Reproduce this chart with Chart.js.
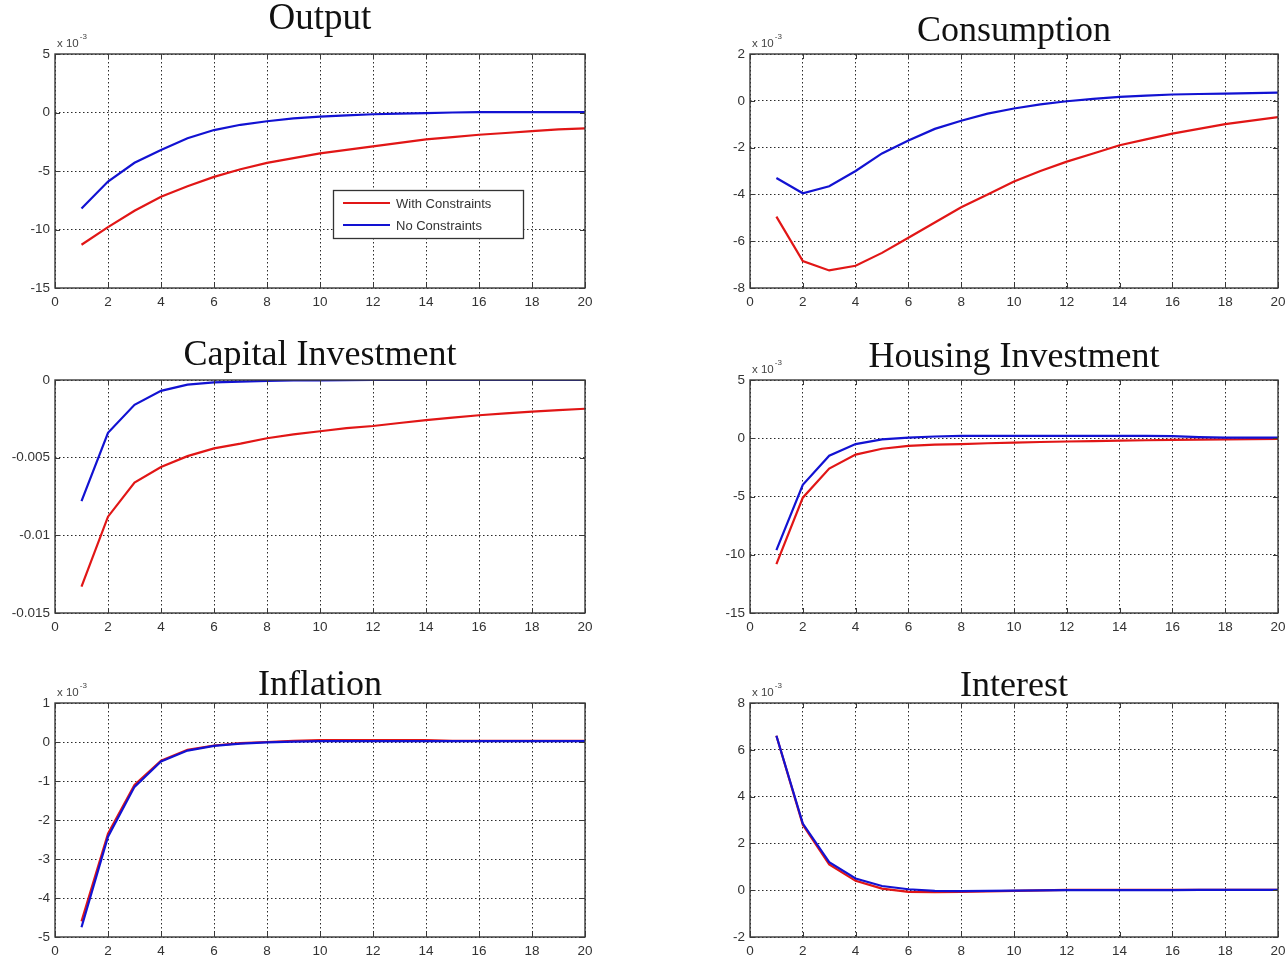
<!DOCTYPE html>
<html>
<head>
<meta charset="utf-8">
<script src="https://cdn.jsdelivr.net/npm/chart.js@4.4.1/dist/chart.umd.min.js"></script>
<style>
  html, body { margin: 0; padding: 0; background: #fff; overflow: hidden; }
  body { width: 1286px; height: 963px; position: relative; }
  canvas { position: absolute; }
</style>
</head>
<body>
<canvas id="c1"></canvas>
<canvas id="c2"></canvas>
<canvas id="c3"></canvas>
<canvas id="c4"></canvas>
<canvas id="c5"></canvas>
<canvas id="c6"></canvas>
<script>
// periods (quarters after the shock)
const periods = [1, 2, 3, 4, 5, 6, 7, 8, 9, 10, 11, 12, 13, 14, 15, 16, 17, 18, 19, 20];
const xTicks = [0, 2, 4, 6, 8, 10, 12, 14, 16, 18, 20];

const seriesNames = ['With Constraints', 'No Constraints'];

// Output (x 10^-3)
const outputWith = [-11.3, -9.8, -8.4, -7.2, -6.3, -5.5, -4.85, -4.3, -3.9, -3.5, -3.2, -2.9, -2.6, -2.3, -2.1, -1.9, -1.75, -1.6, -1.45, -1.35];
const outputNo = [-8.2, -5.9, -4.3, -3.2, -2.2, -1.5, -1.05, -0.75, -0.5, -0.35, -0.25, -0.15, -0.1, -0.05, 0, 0.03, 0.03, 0.03, 0.03, 0.03];
const outputTicks = [-15, -10, -5, 0, 5];

// Consumption (x 10^-3)
const consWith = [-4.95, -6.85, -7.25, -7.05, -6.5, -5.85, -5.2, -4.55, -4.0, -3.45, -3.0, -2.6, -2.25, -1.9, -1.65, -1.4, -1.2, -1.0, -0.85, -0.7];
const consNo = [-3.3, -3.95, -3.65, -3.0, -2.25, -1.7, -1.2, -0.85, -0.55, -0.33, -0.15, -0.02, 0.08, 0.17, 0.22, 0.27, 0.29, 0.31, 0.33, 0.35];
const consTicks = [-8, -6, -4, -2, 0, 2];

// Capital Investment
const capWith = [-0.0133, -0.0088, -0.0066, -0.0056, -0.0049, -0.0044, -0.0041, -0.00375, -0.0035, -0.0033, -0.0031, -0.00296, -0.00277, -0.00258, -0.00242, -0.00227, -0.00215, -0.00204, -0.00194, -0.00185];
const capNo = [-0.0078, -0.0034, -0.0016, -0.0007, -0.0003, -0.00015, -0.0001, -0.00006, -0.00003, -0.00002, -0.00001, 0, 0, 0, 0, 0, 0, 0, 0, 0];
const capTicks = [-0.015, -0.01, -0.005, 0];

// Housing Investment (x 10^-3)
const houseWith = [-10.8, -5.1, -2.6, -1.4, -0.9, -0.65, -0.55, -0.5, -0.43, -0.37, -0.32, -0.28, -0.24, -0.2, -0.17, -0.14, -0.12, -0.1, -0.08, -0.06];
const houseNo = [-9.6, -4.0, -1.5, -0.5, -0.1, 0.05, 0.15, 0.2, 0.2, 0.2, 0.2, 0.2, 0.2, 0.2, 0.2, 0.18, 0.1, 0.05, 0.05, 0.05];
const houseTicks = [-15, -10, -5, 0, 5];

// Inflation (x 10^-3)
const inflWith = [-4.6, -2.35, -1.1, -0.48, -0.2, -0.09, -0.03, 0, 0.03, 0.05, 0.05, 0.05, 0.05, 0.05, 0.03, 0.03, 0.03, 0.03, 0.03, 0.03];
const inflNo = [-4.75, -2.43, -1.15, -0.5, -0.22, -0.1, -0.04, -0.01, 0.01, 0.02, 0.02, 0.02, 0.02, 0.02, 0.02, 0.02, 0.02, 0.02, 0.02, 0.02];
const inflTicks = [-5, -4, -3, -2, -1, 0, 1];

// Interest (x 10^-3)
const intWith = [6.6, 2.8, 1.1, 0.4, 0.07, -0.07, -0.08, -0.07, -0.05, -0.03, -0.01, 0.01, 0.01, 0.01, 0.01, 0.01, 0.01, 0.01, 0.01, 0.01];
const intNo = [6.6, 2.85, 1.2, 0.5, 0.18, 0.04, -0.03, -0.04, -0.03, -0.02, -0.01, 0, 0, 0, 0, 0, 0.01, 0.01, 0.01, 0.01];
const intTicks = [-2, 0, 2, 4, 6, 8];

const RED = 'rgb(225,22,22)';
const BLUE = 'rgb(18,18,210)';
const AXIS_W = 60, TOP_PAD = 60, RIGHT_PAD = 15, XAXIS_H = 24;

const panels = [
  { id: 'c1', title: 'Output', size: 37, base: 25, L: 55, T: 54, R: 585, B: 288, withV: outputWith, noV: outputNo, ticks: outputTicks, exp: true, legend: true },
  { id: 'c2', title: 'Consumption', size: 36, base: 13, L: 750, T: 54, R: 1278, B: 288, withV: consWith, noV: consNo, ticks: consTicks, exp: true },
  { id: 'c3', title: 'Capital Investment', size: 36, base: 15, L: 55, T: 380, R: 585, B: 613, withV: capWith, noV: capNo, ticks: capTicks, exp: false },
  { id: 'c4', title: 'Housing Investment', size: 36, base: 13, L: 750, T: 380, R: 1278, B: 613, withV: houseWith, noV: houseNo, ticks: houseTicks, exp: true },
  { id: 'c5', title: 'Inflation', size: 36, base: 8, L: 55, T: 703, R: 585, B: 937, withV: inflWith, noV: inflNo, ticks: inflTicks, exp: true },
  { id: 'c6', title: 'Interest', size: 36, base: 7, L: 750, T: 703, R: 1278, B: 937, withV: intWith, noV: intNo, ticks: intTicks, exp: true }
];

// box, inner ticks, title, exponent and legend (matlab look)
const decor = {
  id: 'decor',
  afterDraw(chart, args, o) {
    const ctx = chart.ctx;
    const a = chart.chartArea;
    const xs = chart.scales.x, ys = chart.scales.y;
    ctx.save();
    ctx.strokeStyle = '#3a3a3a';
    ctx.lineWidth = 1.4;
    ctx.strokeRect(a.left, a.top, a.right - a.left, a.bottom - a.top);
    ctx.lineWidth = 1;
    ctx.beginPath();
    xTicks.forEach(v => {
      const px = Math.round(xs.getPixelForValue(v)) + 0.5;
      ctx.moveTo(px, a.bottom); ctx.lineTo(px, a.bottom - 5);
      ctx.moveTo(px, a.top); ctx.lineTo(px, a.top + 5);
    });
    o.ticks.forEach(v => {
      const py = Math.round(ys.getPixelForValue(v)) + 0.5;
      ctx.moveTo(a.left, py); ctx.lineTo(a.left + 5, py);
      ctx.moveTo(a.right, py); ctx.lineTo(a.right - 5, py);
    });
    ctx.stroke();

    // title
    ctx.fillStyle = '#111';
    ctx.font = o.size + 'px "Liberation Serif", serif';
    ctx.textAlign = 'center';
    ctx.textBaseline = 'alphabetic';
    ctx.fillText(o.title, (a.left + a.right) / 2, a.top - o.base);

    // exponent
    if (o.exp) {
      ctx.fillStyle = '#444';
      ctx.textAlign = 'left';
      ctx.font = '11.5px "Liberation Sans", Arial, sans-serif';
      ctx.fillText('x 10', a.left + 2, a.top - 7);
      const w = ctx.measureText('x 10').width;
      ctx.font = '8px "Liberation Sans", Arial, sans-serif';
      ctx.fillText('-3', a.left + 3 + w, a.top - 15);
    }

    // legend
    if (o.legend) {
      const bx = a.left + 278, by = a.top + 136, bw = 190, bh = 48;
      ctx.fillStyle = '#fff';
      ctx.fillRect(bx, by, bw, bh);
      ctx.strokeStyle = '#333';
      ctx.lineWidth = 1.3;
      ctx.strokeRect(bx + 0.5, by + 0.5, bw, bh);
      const rows = [[seriesNames[0], RED, 13], [seriesNames[1], BLUE, 35]];
      ctx.font = '13px "Liberation Sans", Arial, sans-serif';
      ctx.textBaseline = 'middle';
      ctx.textAlign = 'left';
      rows.forEach(r => {
        ctx.strokeStyle = r[1];
        ctx.lineWidth = 2;
        ctx.beginPath();
        ctx.moveTo(bx + 10, by + r[2]);
        ctx.lineTo(bx + 57, by + r[2]);
        ctx.stroke();
        ctx.fillStyle = '#333';
        ctx.fillText(r[0], bx + 63, by + r[2] + 1);
      });
    }
    ctx.restore();
  }
};

function fmt(v) {
  return String(Number(v.toFixed(4)));
}

panels.forEach(p => {
  const cv = document.getElementById(p.id);
  const w = (p.R - p.L) + AXIS_W + RIGHT_PAD;
  const h = (p.B - p.T) + TOP_PAD + XAXIS_H;
  cv.width = w; cv.height = h;
  cv.style.left = (p.L - AXIS_W) + 'px';
  cv.style.top = (p.T - TOP_PAD) + 'px';
  cv.style.width = w + 'px'; cv.style.height = h + 'px';

  const yMin = p.ticks[0], yMax = p.ticks[p.ticks.length - 1];

  new Chart(cv, {
    type: 'line',
    data: {
      datasets: [
        { label: seriesNames[0], data: periods.map((x, i) => ({ x: x, y: p.withV[i] })), borderColor: RED, borderWidth: 2.2, pointRadius: 0, tension: 0, order: 1 },
        { label: seriesNames[1], data: periods.map((x, i) => ({ x: x, y: p.noV[i] })), borderColor: BLUE, borderWidth: 2.2, pointRadius: 0, tension: 0, order: 0 }
      ]
    },
    options: {
      responsive: false,
      animation: false,
      devicePixelRatio: 1,
      layout: { padding: { top: TOP_PAD, right: RIGHT_PAD, left: 0, bottom: 0 } },
      plugins: {
        legend: { display: false },
        tooltip: { enabled: false },
        title: { display: false },
        decor: { title: p.title, size: p.size, base: p.base, exp: p.exp, legend: !!p.legend, ticks: p.ticks }
      },
      scales: {
        x: {
          type: 'linear', min: 0, max: 20,
          afterBuildTicks: s => { s.ticks = xTicks.map(v => ({ value: v })); },
          afterFit: s => { s.height = XAXIS_H; },
          grid: { color: '#2a2a2a', lineWidth: 1, drawTicks: false },
          border: { display: false, dash: [1.5, 2.5] },
          ticks: { padding: 6, color: '#333', font: { family: 'Liberation Sans', size: 13.5 }, maxRotation: 0, autoSkip: false }
        },
        y: {
          type: 'linear', min: yMin, max: yMax,
          afterBuildTicks: s => { s.ticks = p.ticks.map(v => ({ value: v })); },
          afterFit: s => { s.width = AXIS_W; },
          grid: { color: '#2a2a2a', lineWidth: 1, drawTicks: false },
          border: { display: false, dash: [1.5, 2.5] },
          ticks: { padding: 5, color: '#333', font: { family: 'Liberation Sans', size: 13.5 }, autoSkip: false, callback: v => fmt(v) }
        }
      }
    },
    plugins: [decor]
  });
});
</script>
</body>
</html>
